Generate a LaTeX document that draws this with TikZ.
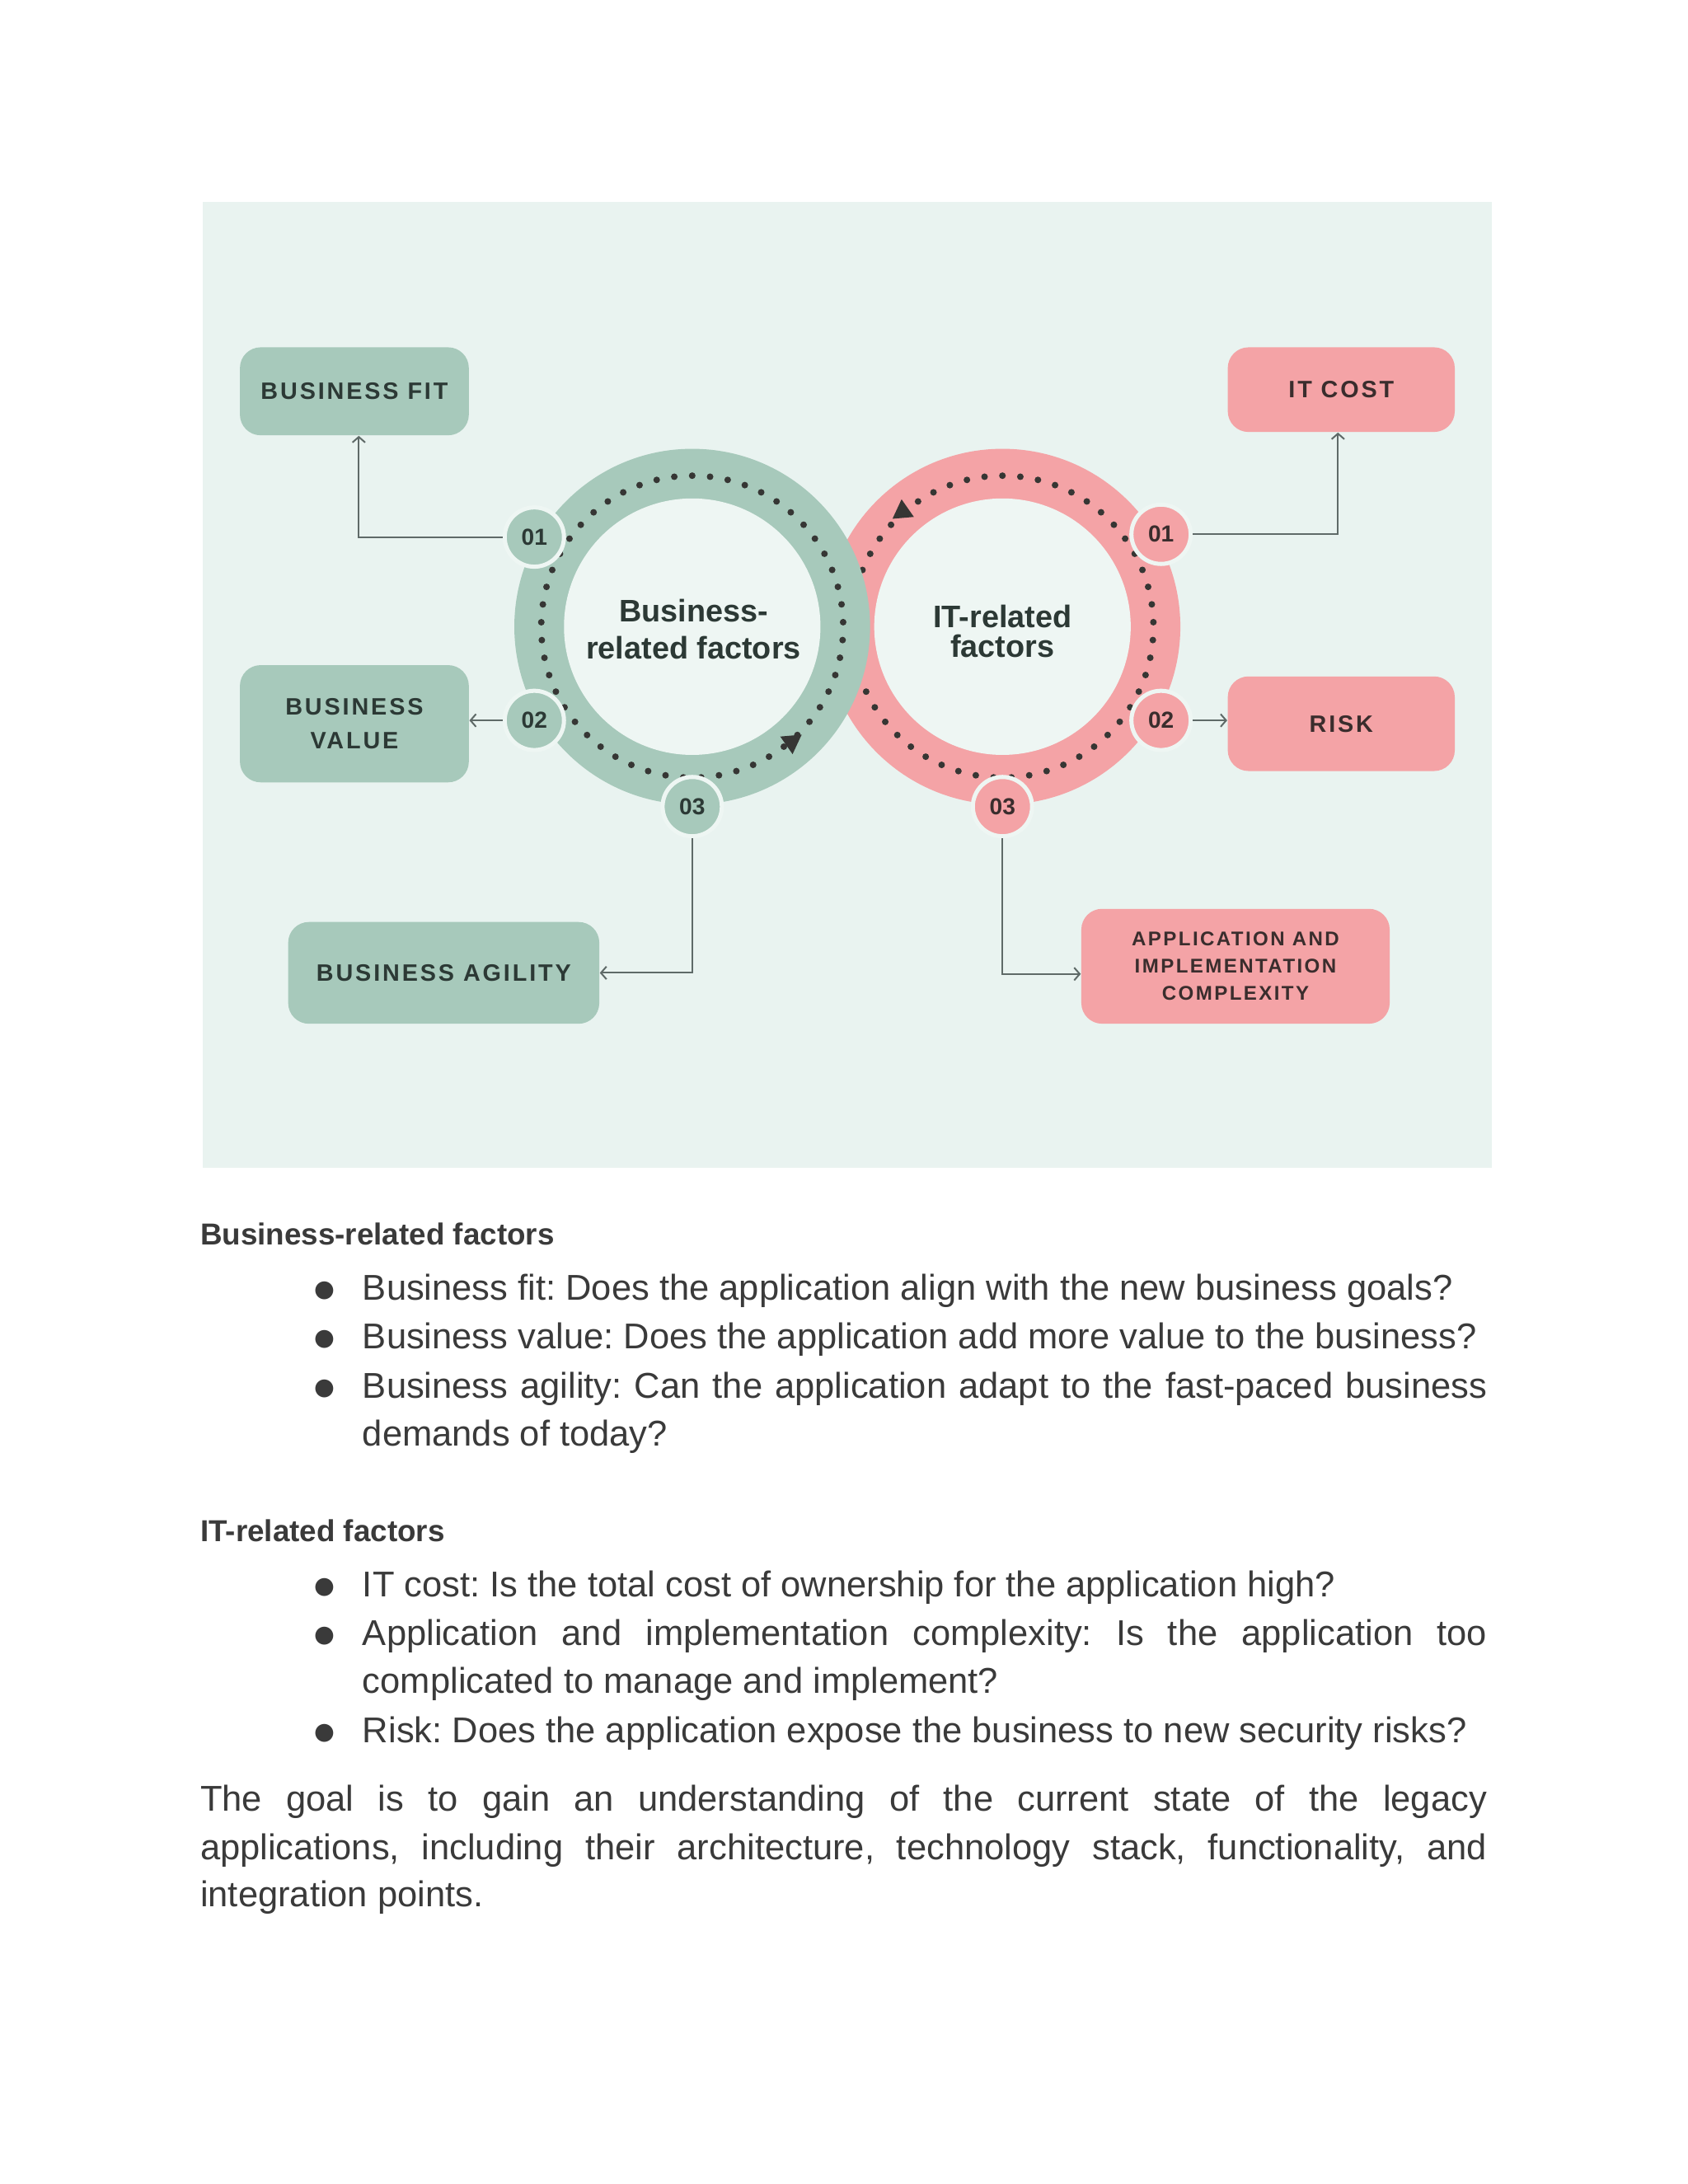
\documentclass[tikz,border=0pt]{standalone}
\usepackage{fontspec}
\setmainfont{Liberation Sans}
\newfontfamily\labelfont{Liberation Sans}[LetterSpace=10]
\newfontfamily\symfont{DejaVu Sans}
\usetikzlibrary{arrows.meta}
\definecolor{bgc}{HTML}{E9F3F0}
\definecolor{innerc}{HTML}{EEF6F3}
\definecolor{greenc}{HTML}{A7C9BB}
\definecolor{pinkc}{HTML}{F4A3A6}
\definecolor{dotc}{HTML}{363634}
\definecolor{gtext}{HTML}{2C3935}
\definecolor{ptext}{HTML}{3A2D2D}
\definecolor{linec}{HTML}{5F6A68}
\definecolor{bodyc}{HTML}{3A3A3A}
\frenchspacing
\begin{document}
\begin{tikzpicture}[x=0.5pt,y=-0.5pt,
  ring/.style={circle, minimum size=129pt, inner sep=0pt},
  hole/.style={circle, fill=innerc, minimum size=93pt, inner sep=0pt},
  dotring/.style={dotc, line width=2.4pt, line cap=round, dash pattern=on 0pt off 6.491pt},
  bubble/.style={circle, draw=innerc, line width=1.5pt, minimum size=21.5pt, inner sep=0pt, font=\bfseries\fontsize{8.4}{9}\selectfont},
  gbub/.style={bubble, fill=greenc, text=gtext},
  pbub/.style={bubble, fill=pinkc, text=ptext},
  box/.style={rounded corners=7.5pt, inner sep=0pt, align=center, font=\labelfont\bfseries\fontsize{8.6}{12.3}\selectfont},
  gbox/.style={box, fill=greenc, text=gtext},
  pbox/.style={box, fill=pinkc, text=ptext},
  conn/.style={draw=linec, line width=0.6pt, -{Straight Barb[length=2pt,width=4.6pt]}},
  center label/.style={inner sep=0pt, align=center, text=gtext},
  body/.style={anchor=base west, inner sep=0pt, text=bodyc, font=\fontsize{13}{16}\selectfont},
  head/.style={anchor=base west, inner sep=0pt, text=bodyc, font=\bfseries\fontsize{11}{13}\selectfont},
  bullet/.style={inner sep=0pt, text=bodyc, font=\symfont\fontsize{8.5}{9}\selectfont}
]
\useasboundingbox (0,0) rectangle (1224,1584);
\fill[white] (0,0) rectangle (1224,1584);
\fill[bgc] (147,146.5) rectangle (1082,847);

% IT ring (behind)
\node[ring, fill=pinkc] (pring) at (727,454.5) {};
\node[hole] (phole) at (727,454.5) {};
\draw[dotring] (727,345) arc[start angle=90, end angle=-270, radius=54.75pt];
\fill[dotc, shift={(654.6,371.1)}] (95:4.5pt) -- (215:4.5pt) -- (335:4.5pt) -- cycle;

% Business ring (front)
\node[ring, fill=greenc] (gring) at (502,454.5) {};
\node[hole] (ghole) at (502,454.5) {};
\draw[dotring] (502,345) arc[start angle=90, end angle=-270, radius=54.75pt];
\fill[dotc, shift={(574,538)}] (-85:4.5pt) -- (35:4.5pt) -- (155:4.5pt) -- cycle;

% centre labels
\node[center label, font=\bfseries\fontsize{11.3}{13.5}\selectfont] (glabel) at (503,456.2) {Business-\\related factors};
\node[center label, font=\bfseries\fontsize{11.3}{11}\selectfont] (plabel) at (727,457.9) {IT-related\\factors};

% boxes
\node[gbox, minimum width=83pt, minimum height=31.9pt] (bfit) at (257,283.8) {BUSINESS FIT};
\node[gbox, minimum width=83pt, minimum height=42.5pt] (bvalue) at (257,524.9) {BUSINESS\\VALUE};
\node[gbox, minimum width=112.8pt, minimum height=36.9pt] (bagility) at (321.8,705.6) {BUSINESS AGILITY};
\node[pbox, minimum width=82.3pt, minimum height=30.7pt] (itcost) at (972.7,282.6) {IT COST};
\node[pbox, minimum width=82.3pt, minimum height=34.3pt] (risk) at (972.7,524.9) {RISK};
\node[pbox, minimum width=111.8pt, minimum height=41.65pt, font=\labelfont\bfseries\fontsize{7.2}{9.9}\selectfont] (app) at (896,700.8) {APPLICATION AND\\IMPLEMENTATION\\COMPLEXITY};

% bubbles
\node[gbub] (g1) at (387.5,389.5) {01};
\node[gbub] (g2) at (387.5,522.5) {02};
\node[gbub] (g3) at (502,585) {03};
\node[pbub] (p1) at (842,387.5) {01};
\node[pbub] (p2) at (842,522.5) {02};
\node[pbub] (p3) at (727,585) {03};

% connectors
\draw[conn] (g1.west) -| ([xshift=1.6pt]bfit.south);
\draw[conn] (g2.west) -- (g2.west -| bvalue.east);
\draw[conn] (g3.south) |- (bagility.east);
\draw[conn] (p1.east) -| ([xshift=-1.2pt]itcost.south);
\draw[conn] (p2.east) -- (p2.east -| risk.west);
\draw[conn] (p3.south) |- ([yshift=-2.8pt]app.west);

% body text
\node[head] (h1) at (144.9,902.9) {Business-related factors};
\node[bullet] (d1) at (235.2,935.9) {●};
\node[body] (t1) at (262.6,942.7) {Business fit: Does the application align with the new business goals?};
\node[bullet] (d2) at (235.2,971.4) {●};
\node[body] (t2) at (262.6,978.2) {Business value: Does the application add more value to the business?};
\node[bullet] (d3) at (235.2,1007.2) {●};
\node[body] (t3) at (262.6,1014) {\makebox[407.7pt][s]{Business agility: Can the application adapt to the fast-paced business}};
\node[body] (t4) at (262.6,1048.9) {demands of today?};

\node[head] (h2) at (144.9,1118) {IT-related factors};
\node[bullet] (d4) at (235.2,1151.1) {●};
\node[body] (t5) at (262.6,1157.9) {IT cost: Is the total cost of ownership for the application high?};
\node[bullet] (d5) at (235.2,1186.5) {●};
\node[body] (t6) at (262.6,1193.3) {\makebox[407.7pt][s]{Application and implementation complexity: Is the application too}};
\node[body] (t7) at (262.6,1228.2) {complicated to manage and implement?};
\node[bullet] (d6) at (235.2,1257.2) {●};
\node[body] (t8) at (262.6,1264) {Risk: Does the application expose the business to new security risks?};

\node[body] (p1l) at (144.9,1313.8) {\makebox[466.5pt][s]{The goal is to gain an understanding of the current state of the legacy}};
\node[body] (p2l) at (144.9,1348.7) {\makebox[466.5pt][s]{applications, including their architecture, technology stack, functionality, and}};
\node[body] (p3l) at (144.9,1382.6) {integration points.};
\end{tikzpicture}
\end{document}
